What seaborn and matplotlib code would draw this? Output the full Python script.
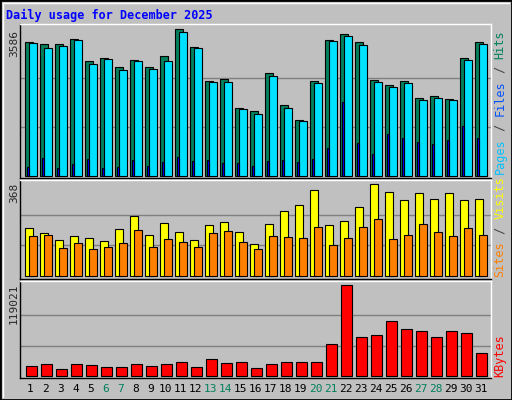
import numpy as np
import matplotlib
matplotlib.use("Agg")
import matplotlib.pyplot as plt
import seaborn as sns

days = list(range(1, 32))
weekends = [6, 7, 13, 14, 20, 21, 27, 28]
hits = [3268, 3203, 3203, 3342, 2804, 2877, 2657, 2828, 2657, 2926, 3586, 3146, 2315, 2364, 1654, 1581,
        2494, 1728, 1369, 2315, 3317, 3464, 3268, 2339, 2217, 2315, 1899, 1948, 1875, 2877, 3268]
files = [3244, 3121, 3170, 3317, 2730, 2853, 2584, 2804, 2608, 2804, 3513, 3121, 2290, 2290, 1630, 1508,
         2437, 1654, 1337, 2266, 3293, 3415, 3195, 2290, 2168, 2266, 1850, 1899, 1850, 2828, 3219]
pages = [220, 440, 196, 293, 416, 196, 220, 391, 245, 342, 465, 367, 391, 318, 318, 245,
         367, 391, 342, 416, 685, 1809, 807, 538, 1027, 929, 831, 782, 880, 1223, 929]
visits = [192, 172, 144, 160, 152, 140, 188, 240, 164, 212, 176, 144, 204, 216, 176, 128,
          208, 260, 284, 344, 204, 220, 276, 368, 336, 304, 332, 308, 332, 304, 308]
sites = [160, 164, 112, 132, 108, 116, 132, 184, 116, 148, 136, 116, 172, 180, 136, 108,
         160, 156, 152, 196, 124, 152, 196, 228, 148, 164, 208, 176, 160, 192, 164]
kbytes = [13466, 16072, 9556, 16072, 14769, 12163, 12163, 16072, 13466, 16072, 18678, 12163, 22588, 17375,
          18678, 10860, 16072, 18678, 18678, 18678, 42134, 119021, 51256, 53862, 72106, 61681, 59075,
          51256, 59075, 56469, 30406]

BG = "#C0C0C0"
GREEN = "#00805C"
sns.set_style("white")
plt.rcParams['font.family'] = ['DejaVu Sans Mono']

W, H = 512, 400
fig = plt.figure(figsize=(W / 100, H / 100), dpi=100, facecolor=BG)


def px_axes(x0, y0, x1, y1):
    return fig.add_axes([x0 / W, 1 - y1 / H, (x1 - x0) / W, (y1 - y0) / H])


def bars(ax, vals, lo, hi, color):
    x = np.array(days) + (lo + hi) / 2
    ax.bar(x, vals, width=hi - lo, color=color, edgecolor="black", linewidth=0.8)


def setup(ax, vmax, below, above, label):
    ax.set_facecolor(BG)
    ax.set_xlim(0.3, 31.7)
    ax.set_ylim(-below, vmax + above)
    for g in (vmax / 3, 2 * vmax / 3):
        ax.axhline(g, color="#808080", lw=1, zorder=0)
    ax.set_xticks([])
    ax.set_yticks([])
    for s in ax.spines.values():
        s.set_color("black")
        s.set_linewidth(1)
    ax.spines["top"].set_color("white")
    ax.spines["right"].set_color("white")


# top panel
ax1 = px_axes(20, 24, 491, 178)
setup(ax1, 3586, 2 * 24.45, 4.6 * 24.45, "3586")
bars(ax1, hits, -0.35, 0.17, GREEN)
bars(ax1, files, -0.08, 0.41, "#00E0FF")
bars(ax1, pages, -0.23, -0.08, "#0000FF")

# middle panel
ax2 = px_axes(20, 180, 491, 279)
setup(ax2, 368, 3 * 4, 4.3 * 4, "368")
bars(ax2, visits, -0.35, 0.17, "#FFFF00")
bars(ax2, sites, -0.08, 0.41, "#FF8000")

# bottom panel
ax3 = px_axes(20, 281, 491, 378)
setup(ax3, 119021, 2 * 1303, 3.6 * 1303, "119021")
bars(ax3, kbytes, -0.28, 0.41, "#FF0000")

# max labels
for ypx, txt in [(30, "3586"), (183, "368"), (284, "119021")]:
    fig.text(14 / W, 1 - ypx / H, txt, rotation=90, ha="center", va="top", fontsize=8)

# right side legends (bottom to top)
CH = 7.2


def side(y_bottom, parts):
    y = y_bottom
    for txt, col in parts:
        fig.text(500 / W, 1 - y / H, txt, rotation=90, ha="center", va="bottom",
                 fontsize=8.5, color=col)
        y -= CH * len(txt)


side(174, [("Pages", "#00C0FF"), (" / ", "#404040"), ("Files", "#0050FF"), (" / ", "#404040"), ("Hits", GREEN)])
side(277, [("Sites", "#FF8000"), (" / ", "#404040"), ("Visits", "#FFFF00")])
side(377, [("KBytes", "#FF0000")])

# day labels
for d in days:
    x = 30.5 + 15 * (d - 1)
    fig.text(x / W, 1 - 389 / H, str(d), ha="center", va="center", fontsize=8,
             color=GREEN if d in weekends else "black")

fig.text(6 / W, 1 - 15 / H, "Daily usage for December 2025", ha="left", va="center",
         fontsize=8.5, fontweight="bold", color="#0000FF")

# figure bevel border
fig.add_artist(plt.Rectangle((0, 0), 1, 1, transform=fig.transFigure, fill=False,
                             edgecolor="black", lw=2))
fig.add_artist(plt.Line2D([3 / W, 3 / W], [3 / H, 1 - 3 / H], color="white", lw=1))
fig.add_artist(plt.Line2D([3 / W, 1 - 3 / W], [1 - 3 / H, 1 - 3 / H], color="white", lw=1))

fig.savefig("out.png", dpi=100, facecolor=BG)
